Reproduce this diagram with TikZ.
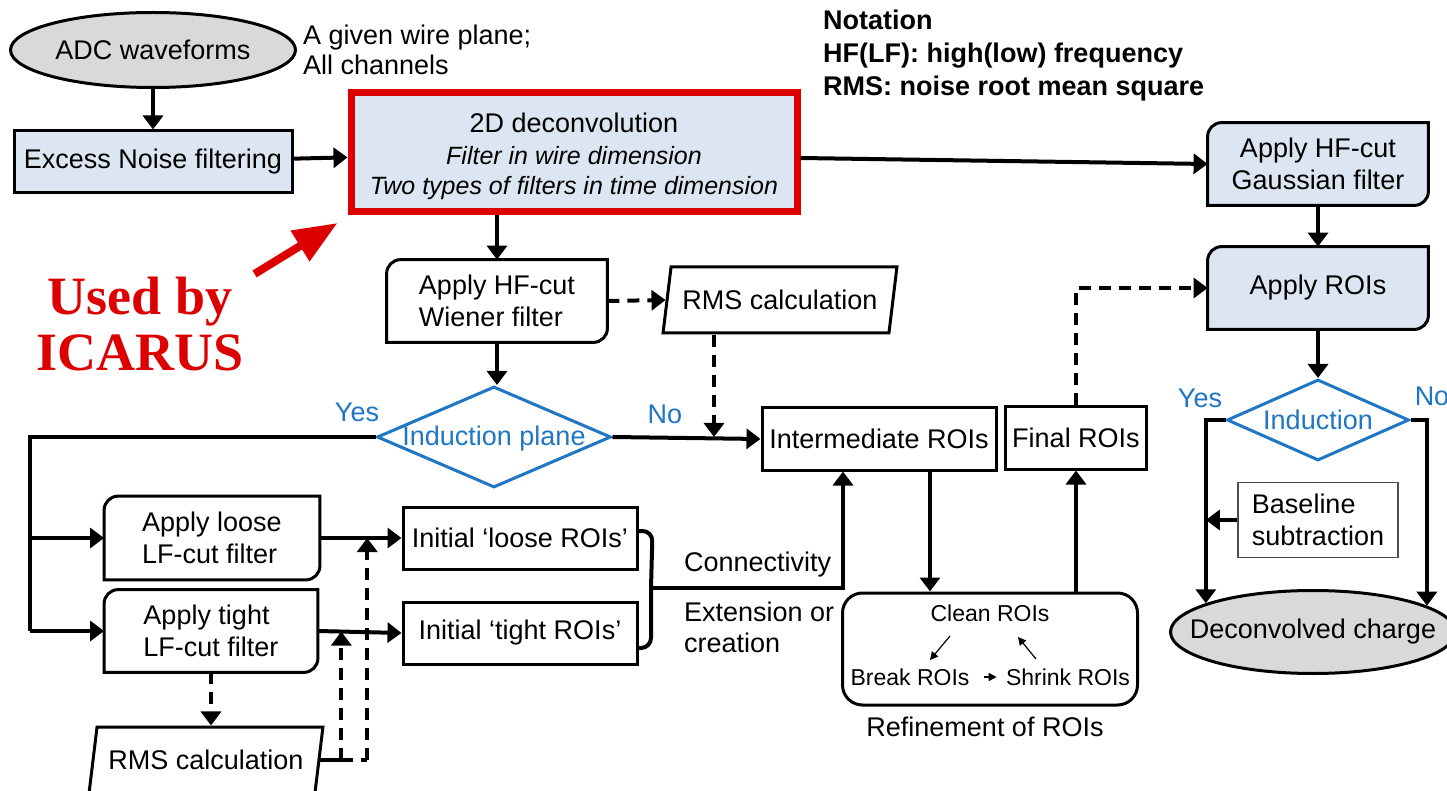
\documentclass[tikz,border=0pt]{standalone}
\usepackage{fontspec}
\setmainfont{Liberation Sans}
\newfontfamily\icarusfont{Liberation Serif}
\usetikzlibrary{arrows.meta,shapes.geometric,backgrounds,calc}

\definecolor{boxblue}{RGB}{220,230,242}
\definecolor{ovalgray}{RGB}{217,217,217}
\definecolor{decblue}{RGB}{30,118,196}
\definecolor{icared}{RGB}{221,0,0}

\tikzset{
  wire/.style={line width=2pt},
  flow/.style={wire,-{Triangle[length=7pt,width=10pt]}},
  dashflow/.style={flow,dash pattern=on 6pt off 4pt},
  dashwire/.style={wire,dash pattern=on 6pt off 4pt},
  stepbox/.style={draw,line width=1.5pt,minimum width=117pt,minimum height=31pt,inner sep=2pt},
  oval/.style={ellipse,draw,line width=1.5pt,fill=ovalgray,minimum width=142.5pt,minimum height=37.5pt,inner sep=0pt},
  tabnode/.style={minimum width=110pt,minimum height=41pt,align=left,inner sep=2pt},
  rmsbox/.style={trapezium,trapezium left angle=75,trapezium right angle=105,trapezium stretches=true,
    draw,line width=1.5pt,minimum width=117pt,minimum height=33pt,inner sep=2pt},
  decision/.style={diamond,draw=decblue,line width=1.5pt,inner sep=0pt},
  bluetext/.style={text=decblue},
  smallarr/.style={line width=0.6pt,-{Triangle[length=4pt,width=4pt]}},
  smallfont/.style={font=\fontsize{11.5}{13}\selectfont},
}
% box with round top left and bottom right corners, drawn behind its node
\newcommand\tabshape[2][white]{%
  \begin{scope}[on background layer]
    \draw[line width=1.5pt,fill=#1] ([yshift=-7pt]#2.north west) arc[start angle=180,end angle=90,radius=7pt]
      -- (#2.north east) -- ([yshift=7pt]#2.south east) arc[start angle=0,end angle=-90,radius=7pt]
      -- (#2.south west) -- cycle;
  \end{scope}}

\begin{document}
\begin{tikzpicture}[x=0.5pt,y=-0.5pt,font=\fontsize{13.5}{16}\selectfont]
  \useasboundingbox (0,0) rectangle (1447,791);
  \begin{scope}[on background layer]
    \fill[white] (0,0) rectangle (1447,791);
  \end{scope}
  % top row
  \node[oval] (adc) at (153,50) {ADC waveforms};
  \node[anchor=west,align=left,font=\fontsize{13.5}{15}\selectfont] (given) at (296,50) {A given wire plane;\\All channels};
  \node[stepbox,fill=boxblue,minimum width=139pt] (noise) at (153,162) {Excess Noise filtering};
  \node[stepbox,draw=icared,line width=3.5pt,fill=boxblue,minimum width=223pt,minimum height=59.5pt] (deconv) at (574,152) {};
  \node[align=center,font=\fontsize{13.5}{15}\selectfont] (deconvtext) at (574,156)
    {2D deconvolution\\[1pt]\fontsize{12.5}{15}\itshape Filter in wire dimension\\\fontsize{12.5}{15}\itshape Two types of filters in time dimension};
  \node[anchor=west,align=left,font=\bfseries\fontsize{13.5}{16.5}\selectfont] (notation) at (816,56)
    {Notation\\HF(LF): high(low) frequency\\RMS: noise root mean square};
  \node[text=icared,align=center,font=\icarusfont\bfseries\fontsize{27}{28}\selectfont] (icarus) at (140,324) {Used by\\ICARUS};
  \node[tabnode,align=center] (gauss) at (1318,164) {Apply HF-cut\\Gaussian filter};
  \tabshape[boxblue]{gauss}
  \node[tabnode,align=center] (applyroi) at (1318,288) {Apply ROIs};
  \tabshape[boxblue]{applyroi}
  % middle
  \node[tabnode] (wiener) at (497,301) {Apply HF-cut\\Wiener filter};
  \tabshape{wiener}
  \node[rmsbox] (rmsa) at (780,300) {RMS calculation};
  \node[decision,minimum width=117pt,minimum height=50.5pt] (indplane) at (494,437) {};
  \node[bluetext] (indplanetext) at ([yshift=-1pt]indplane) {Induction plane};
  \node[bluetext] (yesa) at (357,412) {Yes};
  \node[bluetext] (noa) at (665,414) {No};
  \node[stepbox] (inter) at (879,439) {Intermediate ROIs};
  \node[stepbox,minimum width=70.5pt] (final) at (1076,438) {Final ROIs};
  % bottom left
  \node[tabnode,minimum width=107.5pt,minimum height=41.5pt] (loose) at (212,538) {Apply loose\\LF-cut filter};
  \tabshape{loose}
  \node[tabnode,minimum width=106.5pt] (tight) at (211,631) {Apply tight\\LF-cut filter};
  \tabshape{tight}
  \node[rmsbox] (rmsb) at (206,760) {RMS calculation};
  \node[stepbox] (iloose) at (520,538) {Initial ‘loose ROIs’};
  \node[stepbox] (itight) at (520,633) {Initial ‘tight ROIs’};
  \node[anchor=west] (conn) at (677,565) {Connectivity};
  \node[anchor=west,align=left,font=\fontsize{13.5}{15.5}\selectfont] (ext) at (677,627) {Extension or\\creation};
  % refinement
  \node[draw,line width=1.5pt,rounded corners=10pt,minimum width=147.5pt,minimum height=56pt] (refine) at (990,649) {};
  \node[smallfont] (clean) at (990,613) {Clean ROIs};
  \node[smallfont] (brk) at (910,677) {Break ROIs};
  \node[smallfont] (shrink) at (1068,677) {Shrink ROIs};
  \node (refinelbl) at (985,727) {Refinement of ROIs};
  % right column
  \node[decision,minimum width=91pt,minimum height=40.5pt] (indr) at (1318,420) {};
  \node[bluetext] (indrtext) at (indr) {Induction};
  \node[bluetext] (yesb) at (1200,398) {Yes};
  \node[bluetext] (nob) at (1432,396) {No};
  \node[draw=black!70,line width=0.6pt,minimum width=80pt,minimum height=37.5pt,align=left] (baseline) at (1318,520) {Baseline\\subtraction};
  \node[oval,minimum height=41.5pt] (decon) at (1313,632) {};
  \node (decontext) at (decon) {Deconvolved charge};

  % connectors
  \draw[flow] (adc) -- (noise);
  \draw[flow] (noise) -- (deconv);
  \draw[flow] ([yshift=-3pt]deconv.east) -- (gauss.west);
  \draw[flow] (gauss) -- (applyroi);
  \draw[flow] (deconv.south -| wiener.north) -- (wiener.north);
  \draw[flow] (wiener.south) -- (wiener.south |- indplane.north);
  \draw[dashflow] (wiener.east) -- (rmsa.west);
  \coordinate (rmsdrop) at (714,437);
  \draw[dashflow] (rmsa.south -| rmsdrop) -- (rmsdrop);
  \draw[flow] (indplane.east) -- (inter.west);
  \coordinate (yesturn) at (30,437);
  \draw[wire] (indplane.west) -- (yesturn) -- (yesturn |- tight.west);
  \draw[flow] (yesturn |- loose.west) -- (loose.west);
  \draw[flow] (yesturn |- tight.west) -- (tight.west);
  \draw[flow] (loose.east) -- (iloose.west);
  \draw[flow] (tight.east) -- (itight.west);
  \draw[dashflow] (tight.south) -- (tight.south |- rmsb.north);
  \path (loose.east) -- (iloose.west) coordinate[pos=0.58] (tiploose);
  \path (tight.east) -- (itight.west) coordinate[pos=0.28] (tiptight);
  \draw[wire] (rmsb.east) -- (rmsb.east -| tiptight);
  \draw[dashwire] (rmsb.east -| tiptight) -- (rmsb.east -| tiploose);
  \draw[dashflow] (rmsb.east -| tiptight) -- (tiptight);
  \draw[dashflow] (rmsb.east -| tiploose) -- (tiploose);
  \coordinate (bracemid) at (651,588);
  \coordinate (connturn) at (843,588);
  \draw[wire,rounded corners=5pt] ([yshift=3.5pt]iloose.east) -- ++(14,0) -- (bracemid)
    -- ([yshift=-7.5pt]itight.east -| bracemid) -- ([yshift=-7.5pt]itight.east);
  \draw[flow] (bracemid) -- (connturn) -- (connturn |- inter.south);
  \draw[flow] ([xshift=25.5pt]inter.south) -- ([xshift=25.5pt]inter.south |- refine.north);
  \draw[flow] (refine.north -| final.south) -- (final.south);
  \draw[dashflow] (final.north) |- (applyroi.west);
  \draw[flow] (applyroi) -- (indr);
  \draw[flow] (indr.west) -| (decon.165);
  \draw[flow] (indr.east) -| (decon.13);
  \draw[flow] (baseline.west) -- (baseline.west -| decon.165);
  \draw[smallarr] ($(clean)+(-40,23)$) -- ($(clean)+(-60,47)$);
  \draw[smallarr] ($(clean)+(46,46)$) -- ($(clean)+(28,24)$);
  \draw[smallarr] ($(brk.east)!0.35!(shrink.west)$) -- ($(brk.east)!0.9!(shrink.west)$);
  \draw[line width=4pt,icared,-{Triangle[length=22pt,width=17pt]}] ($(icarus.north east)+(4,4)$) -- ($(deconv.south west)+(-10,8)$);
\end{tikzpicture}
\end{document}
